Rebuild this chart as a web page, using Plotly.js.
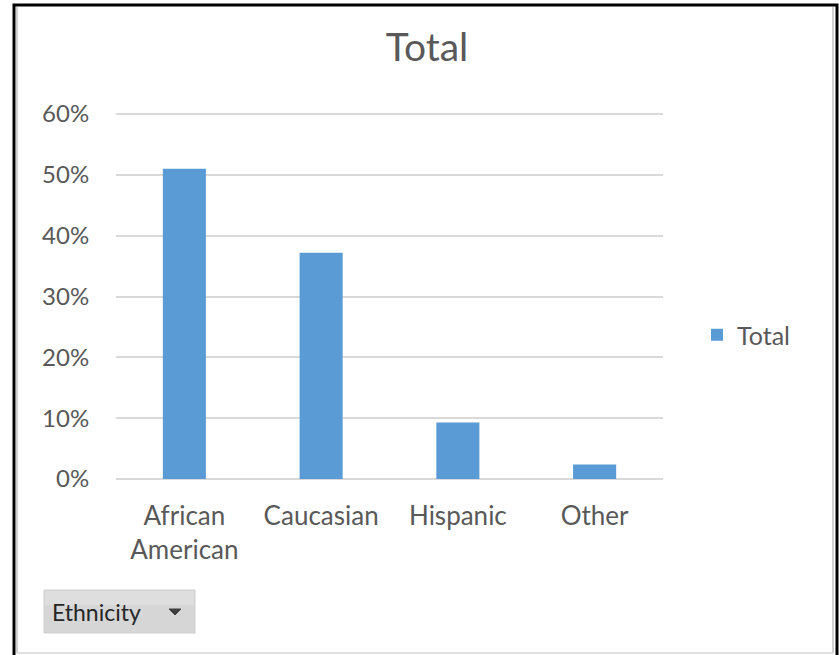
<!DOCTYPE html>
<html>
<head>
<meta charset="utf-8">
<script src="https://cdn.plot.ly/plotly-3.0.1.min.js"></script>
<style>
html,body{margin:0;padding:0;background:#fff;}
#chart{width:839px;height:655px;}
</style>
</head>
<body>
<div id="chart"></div>
<script>
// Data
const categories = ["African<br>American", "Caucasian", "Hispanic", "Other"];
const totalValues = [0.51, 0.372, 0.093, 0.024];
const yTickValues = [0, 0.1, 0.2, 0.3, 0.4, 0.5, 0.6];
const yTickLabels = ["0%", "10%", "20%", "30%", "40%", "50%", "60%"];
const seriesName = "Total";
const chartTitle = "Total";
const filterLabel = "Ethnicity";

// Layout geometry (pixels)
const W = 839, H = 655;
const L = 116, R = 176, T = 113, B = 176;
const PW = W - L - R, PH = H - T - B;
const px = x => (x - L) / PW;
const py = y => (H - B - y) / PH;

const FONT = "Lato, 'DejaVu Sans', sans-serif";
const TXT = "#595959";

const trace = {
  type: "bar",
  x: categories,
  y: totalValues,
  name: seriesName,
  marker: {color: "#5b9bd5", line: {color: "#5b9bd5", width: 0}},
  width: 0.315,
  showlegend: true,
  hoverinfo: "x+y"
};

const layout = {
  width: W, height: H,
  margin: {l: L, r: R, t: T, b: B, pad: 0},
  paper_bgcolor: "#ffffff",
  plot_bgcolor: "#ffffff",
  font: {family: FONT, color: TXT, size: 24},
  title: {
    text: chartTitle,
    font: {family: FONT, size: 39, color: TXT},
    xref: "container", yref: "container",
    x: 427 / W, xanchor: "center",
    y: 1 - 47 / H, yanchor: "middle"
  },
  showlegend: true,
  legend: {
    x: px(697), xanchor: "left",
    y: py(335), yanchor: "middle",
    font: {family: FONT, size: 25, color: TXT},
    bgcolor: "rgba(0,0,0,0)",
    itemwidth: 30
  },
  xaxis: {
    type: "category",
    range: [-0.5, 3.5],
    showgrid: false,
    zeroline: false,
    showline: false,
    ticks: "outside",
    ticklen: 14,
    tickcolor: "rgba(0,0,0,0)",
    tickfont: {family: FONT, size: 26, color: TXT},
    fixedrange: true
  },
  yaxis: {
    range: [0, 0.6017],
    tickvals: yTickValues,
    ticktext: yTickLabels,
    showgrid: true,
    gridcolor: "#d9d9d9",
    gridwidth: 2,
    zeroline: true,
    zerolinecolor: "#d9d9d9",
    zerolinewidth: 2,
    showline: false,
    ticks: "outside",
    ticklen: 21,
    tickcolor: "rgba(0,0,0,0)",
    tickfont: {family: FONT, size: 24, color: TXT},
    fixedrange: true
  },
  shapes: [
    // outer frame
    {type: "rect", xref: "paper", yref: "paper",
     x0: px(14), x1: px(837), y0: py(660), y1: py(5),
     line: {color: "#000000", width: 3}, fillcolor: "rgba(0,0,0,0)", layer: "above"},
    // inner shadow lines
    {type: "line", xref: "paper", yref: "paper",
     x0: px(17), x1: px(17), y0: py(653), y1: py(7),
     line: {color: "#d0d0d0", width: 2}},
    {type: "line", xref: "paper", yref: "paper",
     x0: px(833), x1: px(833), y0: py(653), y1: py(7),
     line: {color: "#d0d0d0", width: 2}},
    {type: "line", xref: "paper", yref: "paper",
     x0: px(17), x1: px(833), y0: py(653), y1: py(653),
     line: {color: "#e0e0e0", width: 2}},
    // filter button
    {type: "rect", xref: "paper", yref: "paper",
     x0: px(44), x1: px(195), y0: py(633), y1: py(590),
     line: {color: "#cfcfcf", width: 1}, fillcolor: "#d6d6d6"},
    {type: "rect", xref: "paper", yref: "paper",
     x0: px(45), x1: px(194), y0: py(605), y1: py(591),
     line: {width: 0}, fillcolor: "#dedede"},
    // dropdown triangle
    {type: "path", xref: "paper", yref: "paper",
     path: `M ${px(169)} ${py(609)} L ${px(181)} ${py(609)} L ${px(175)} ${py(615)} Z`,
     line: {color: "#404040", width: 1}, fillcolor: "#404040"}
  ],
  annotations: [
    {text: filterLabel, xref: "paper", yref: "paper",
     x: px(50), y: py(612), xanchor: "left", yanchor: "middle",
     showarrow: false, font: {family: FONT, size: 23, color: "#262626"}}
  ]
};

Plotly.newPlot("chart", [trace], layout, {displayModeBar: false, staticPlot: false});
</script>
</body>
</html>
